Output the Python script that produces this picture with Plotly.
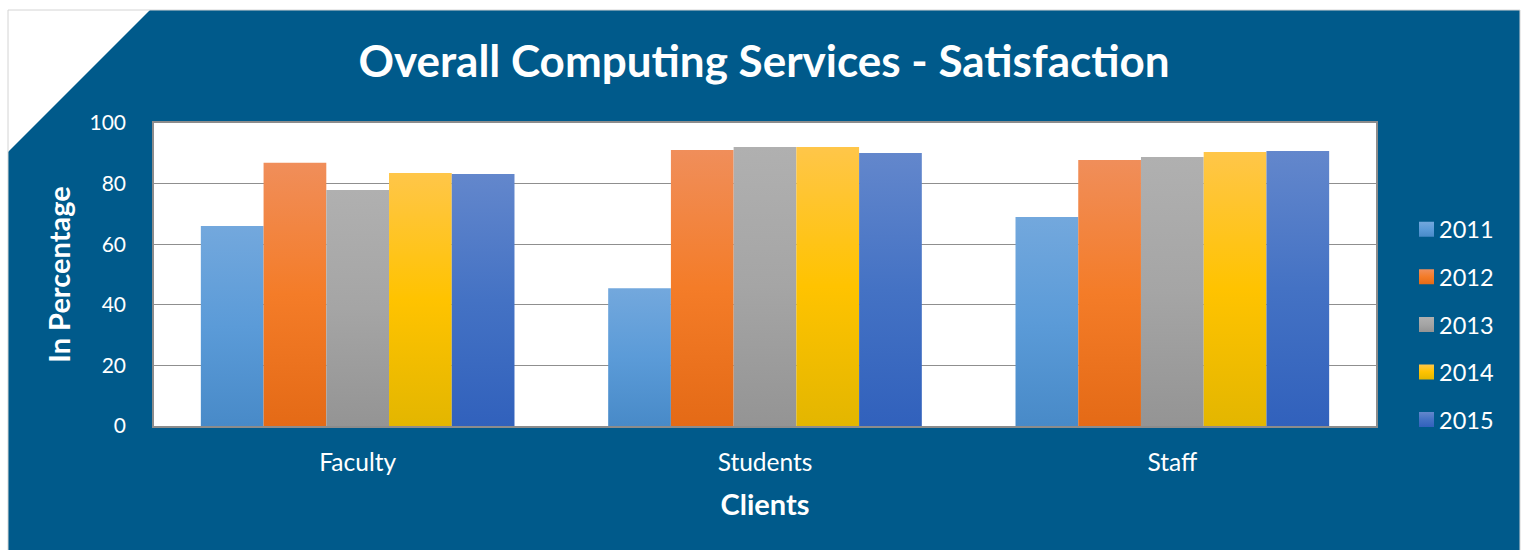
import plotly.graph_objects as go

categories = ["Faculty", "Students", "Staff"]
years = ["2011", "2012", "2013", "2014", "2015"]
values_2011 = [66.0, 45.5, 69.0]
values_2012 = [86.9, 91.1, 87.8]
values_2013 = [77.9, 92.1, 88.8]
values_2014 = [83.5, 92.1, 90.4]
values_2015 = [83.2, 90.1, 90.8]
series = [values_2011, values_2012, values_2013, values_2014, values_2015]

# gradient stops (top, middle, bottom) per series
grad = [
    ("#73a8dd", "#5b9bd8", "#488ac8"),
    ("#f08e5a", "#f47c28", "#e46a16"),
    ("#b0b0b0", "#a5a5a5", "#949494"),
    ("#ffc649", "#ffc300", "#e3b600"),
    ("#6387cc", "#4472c4", "#3161bc"),
]

W, H = 1528, 550
L, R, T, B = 154, 152, 123, 124
PW, PH = W - L - R, H - T - B


def px(x):
    return (x - L) / PW


def py(y):
    return (H - B - y) / PH


BLUE = "#005a8b"
FONT = "Lato"

fig = go.Figure()
for name, vals, g in zip(years, series, grad):
    fig.add_trace(go.Bar(
        x=categories, y=vals, name=name, legendgroup=name,
        marker=dict(color=g[1], line=dict(width=0)),
    ))

panel = "M {} {} L {} {} L {} {} L {} {} L {} {} Z".format(
    px(150), py(10), px(1520), py(10), px(1520), py(551), px(8), py(551), px(8), py(152))
outline = "M {} {} L {} {} L {} {} L {} {}".format(
    px(8), py(551), px(8), py(10), px(1520), py(10), px(1520), py(551))

fig.update_layout(
    width=W, height=H,
    margin=dict(l=L, r=R, t=T, b=B, autoexpand=False),
    paper_bgcolor="white", plot_bgcolor="white",
    font=dict(family=FONT, color="white", size=21),
    title=dict(text="<b>Overall Computing Services - Satisfaction</b>",
               x=0.5, xref="container", xanchor="center",
               y=1 - 62 / H, yref="container", yanchor="middle",
               font=dict(size=44, color="white", family=FONT)),
    bargap=0.23, bargroupgap=0,
    shapes=[
        dict(type="path", path=panel, xref="paper", yref="paper",
             fillcolor=BLUE, line=dict(width=0), layer="below"),
        dict(type="path", path=outline, xref="paper", yref="paper",
             line=dict(color="#d4d4d4", width=1), layer="below"),
        dict(type="rect", xref="paper", yref="paper", x0=0, x1=1, y0=0, y1=1,
             fillcolor="white", line=dict(width=0), layer="below"),
    ],
    legend=dict(x=px(1399), xanchor="left", y=py(324.5), yanchor="middle",
                traceorder="grouped", tracegroupgap=14,
                font=dict(size=23.5, color="white", family=FONT),
                bgcolor="rgba(0,0,0,0)", itemwidth=30),
)

fig.update_xaxes(
    showline=True, mirror=True, linecolor="#8c8c8c", linewidth=1.5,
    tickfont=dict(size=24.5, color="white"), ticklabelstandoff=14,
    title=dict(text="<b>Clients</b>", font=dict(size=29, color="white"), standoff=20),
    automargin=False,
)
fig.update_yaxes(
    range=[0, 100], dtick=20, showgrid=True, gridcolor="#8f8f8f", gridwidth=1.3,
    showline=True, mirror=True, linecolor="#8c8c8c", linewidth=1.5,
    zeroline=False,
    tickfont=dict(size=21, color="white"), ticklabelstandoff=22,
    title=dict(text="<b>In Percentage</b>", font=dict(size=29, color="white"), standoff=10),
    automargin=False,
)

stops_js = "[" + ",".join("['%s','%s','%s']" % g for g in grad) + "]"
post = """
document.body.style.margin = '0';
var gd = document.getElementById('{plot_id}');
var STOPS = %s;
function applyGrad(){
  var svg = gd.querySelector('svg.main-svg');
  if(!svg) return;
  var ns = 'http://www.w3.org/2000/svg';
  var defs = svg.querySelector('defs');
  if(!defs){ defs = document.createElementNS(ns,'defs'); svg.insertBefore(defs, svg.firstChild); }
  STOPS.forEach(function(s,i){
    var id = 'bargrad'+i;
    if(document.getElementById(id)) return;
    var lg = document.createElementNS(ns,'linearGradient');
    lg.setAttribute('id', id);
    lg.setAttribute('x1','0'); lg.setAttribute('y1','0');
    lg.setAttribute('x2','0'); lg.setAttribute('y2','1');
    [[0,s[0]],[0.5,s[1]],[1,s[2]]].forEach(function(st){
      var e = document.createElementNS(ns,'stop');
      e.setAttribute('offset', st[0]);
      e.setAttribute('stop-color', st[1]);
      lg.appendChild(e);
    });
    defs.appendChild(lg);
  });
  gd.querySelectorAll('.barlayer .trace').forEach(function(tr,i){
    tr.querySelectorAll('path').forEach(function(p){ p.style.fill = 'url(#bargrad'+i+')'; });
  });
  gd.querySelectorAll('.legend .traces').forEach(function(tr,i){
    tr.querySelectorAll('.legendpoints path').forEach(function(p){
      p.style.fill = 'url(#bargrad'+i+')';
      p.setAttribute('d','M15,7.5H0V-7.5H15Z');
    });
  });
}
applyGrad();
gd.on('plotly_afterplot', applyGrad);
""" % stops_js

fig.write_html("out.html", post_script=post, config={"displayModeBar": False})
